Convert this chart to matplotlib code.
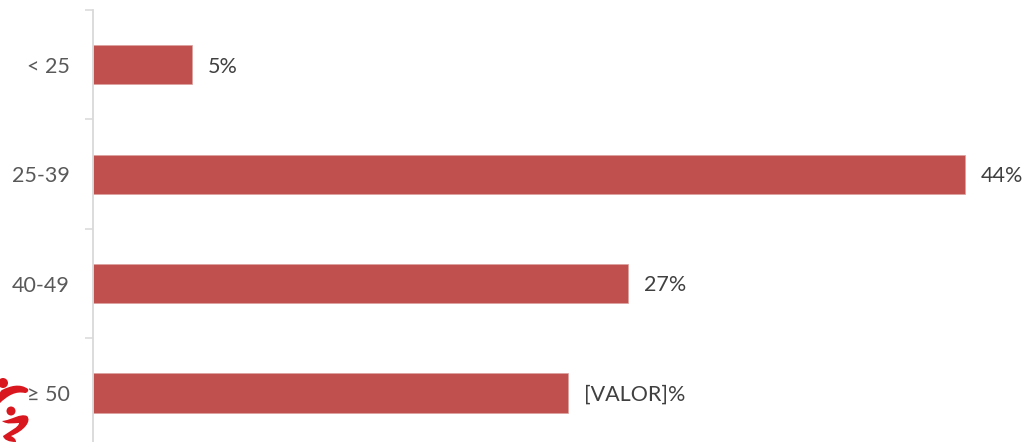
import matplotlib
matplotlib.use("Agg")
import matplotlib.pyplot as plt
from matplotlib.patches import Circle, PathPatch
from matplotlib.path import Path
from matplotlib.transforms import Affine2D

plt.rcParams['font.family'] = ['Lato', 'DejaVu Sans']

# Age groups and their share
categories = ["< 25", "25-39", "40-49", "≥ 50"]
values = [5, 44, 27, 24]
bar_labels = ["5%", "44%", "27%", "[VALOR]%"]

W, H = 1026, 442
BAR_COLOR = "#c0504d"
AXIS_COLOR = "#d9d9d9"
LOGO_RED = "#d9171e"

fig = plt.figure(figsize=(W / 100, H / 100), dpi=100)
ax = fig.add_axes([92.5 / W, 0, (W - 92.5) / W, (H - 10) / H])

y_pos = list(range(len(categories)))
bars = ax.barh(y_pos, values, height=0.357, color=BAR_COLOR, edgecolor="#dba09e", linewidth=0.5)

ax.set_xlim(0, 47.07)
ax.set_ylim(3.448, -0.5)

# Category axis: ticks sit between the bars
ax.set_yticks(y_pos, categories, fontsize=15.5, color="#595959")
ax.set_yticks([i - 0.5 for i in range(len(categories))], minor=True)
ax.tick_params(axis="y", which="major", length=0, pad=16.5)
ax.tick_params(axis="y", which="minor", length=6, width=1.1, color=AXIS_COLOR)
ax.xaxis.set_visible(False)

for side in ["top", "right", "bottom"]:
    ax.spines[side].set_visible(False)
ax.spines["left"].set_color(AXIS_COLOR)
ax.spines["left"].set_linewidth(1.3)

for bar, text in zip(bars, bar_labels):
    ax.annotate(text, (bar.get_width(), bar.get_y() + bar.get_height() / 2),
                xytext=(11.5, -1.3), textcoords="offset points",
                va="center", ha="left", fontsize=15.5, color="#404040", clip_on=False)

# Small logo in the lower left corner, in pixel coordinates from the top left
logo_tf = Affine2D().scale(1 / W, -1 / H).translate(0, 1) + fig.transFigure

C = Path.CURVE4
upper_swoosh = Path(
    [(-1, 404), (-2, 397), (-1, 392), (2, 390),
     (10, 386), (20, 383), (28, 389),
     (29, 391), (27, 393), (25, 393),
     (16, 391), (8, 395), (-1, 404)],
    [Path.MOVETO, C, C, C, C, C, C, C, C, C, C, C, C])
lower_swoosh = Path(
    [(2, 421), (12, 420), (20, 413), (27, 416),
     (32, 421), (24, 431), (11, 436),
     (15, 438), (16, 440), (16, 442),
     (9, 442), (4, 440), (3, 436),
     (10, 431), (19, 427), (19, 423),
     (14, 423), (7, 425), (2, 421)],
    [Path.MOVETO, C, C, C, C, C, C, C, C, C, C, C, C, C, C, C, C, C, C])

for shape in [Circle((3, 383), 5), Circle((11, 411), 4.5),
              PathPatch(upper_swoosh), PathPatch(lower_swoosh)]:
    shape.set(transform=logo_tf, facecolor=LOGO_RED, edgecolor="none", clip_on=False)
    fig.add_artist(shape)

fig.savefig("out.png", dpi=100)
